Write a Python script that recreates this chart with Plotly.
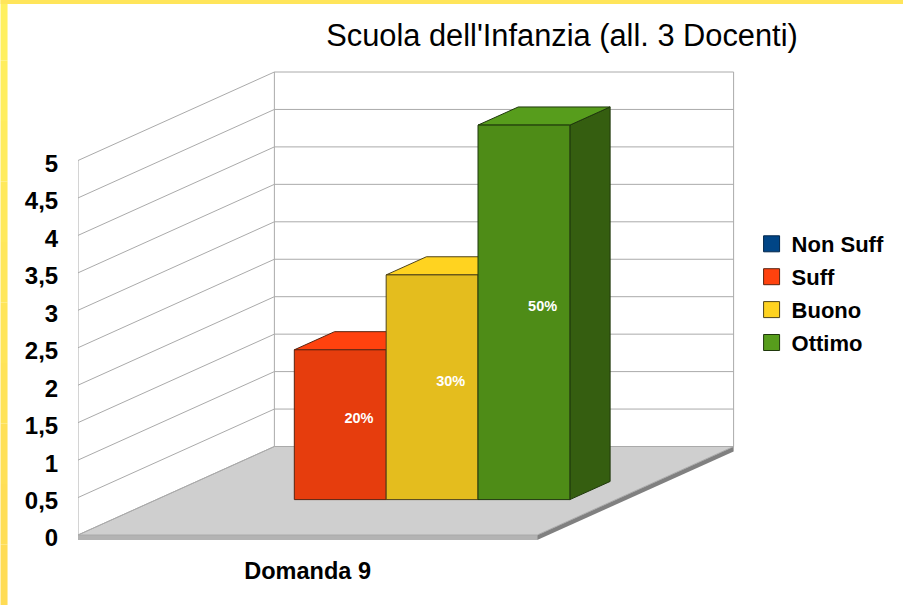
import plotly.graph_objects as go

TITLE = "Scuola dell'Infanzia (all. 3 Docenti)"
CATEGORY = "Domanda 9"
SERIES = ["Non Suff", "Suff", "Buono", "Ottimo"]
VALUES = [0, 2, 3, 5]
LABELS = ["", "20%", "30%", "50%"]
TICKS = [0, 0.5, 1, 1.5, 2, 2.5, 3, 3.5, 4, 4.5, 5]

FRONT = ["#004586", "#e63d0d", "#e4bd1e", "#4e8c17"]
TOP = ["#004586", "#ff420e", "#ffd320", "#579d1c"]
SIDE = ["#002f5c", "#a82c09", "#a88b16", "#355e10"]
EDGE = ["#00264a", "#5a2410", "#50441a", "#1f380c"]

PX_X, PX_Y = 91.9, 74.9            # pixels per unit on each axis
DEPTH_X, DEPTH_Y = 196.5, 88.5     # pixels of full depth
X_ORIGIN, Y_ORIGIN, PLOT_BOTTOM = 77.5, 535, 540
W, H = 903, 605
FLOOR_W = 5.0
BAR_D0, BAR_D1 = 0.40, 0.605
Y_MAX = TICKS[-1]
SLAB = 5 / PX_Y


def pt(x, y, d=0.0):
    return x + d * DEPTH_X / PX_X, y + d * DEPTH_Y / PX_Y


def poly(*pts):
    xs = [p[0] for p in pts] + [pts[0][0]]
    ys = [p[1] for p in pts] + [pts[0][1]]
    return xs, ys


shapes = []


def add_path(pts, fill=None, line=None, width=1):
    path = "M" + "L".join(f"{x:.4f},{y:.4f}" for x, y in pts) + ("Z" if fill else "")
    shapes.append(dict(type="path", path=path, xref="x", yref="y", layer="below",
                       fillcolor=fill or "rgba(0,0,0,0)",
                       line=dict(color=line or "rgba(0,0,0,0)", width=width)))


GRID = "#aaaaaa"
add_path([pt(0, 0), pt(FLOOR_W, 0), pt(FLOOR_W, -SLAB), pt(0, -SLAB)], fill="#b3b3b3")
add_path([pt(FLOOR_W, 0), pt(FLOOR_W, 0, 1), pt(FLOOR_W, -SLAB, 1), pt(FLOOR_W, -SLAB)], fill="#808080")
add_path([pt(0, 0), pt(FLOOR_W, 0), pt(FLOOR_W, 0, 1), pt(0, 0, 1)], fill="#cfcfcf", line=GRID)
for t in TICKS:
    add_path([pt(0, t), pt(0, t, 1), pt(FLOOR_W, t, 1)], line=GRID)
add_path([pt(0, 0), pt(0, Y_MAX)], line=GRID)
add_path([pt(0, 0, 1), pt(0, Y_MAX, 1)], line=GRID)
add_path([pt(FLOOR_W, 0, 1), pt(FLOOR_W, Y_MAX, 1)], line=GRID)

fig = go.Figure()

# bars, back-to-front in drawing order so each bar hides the one on its left
for i, (name, v) in enumerate(zip(SERIES, VALUES)):
    if v <= 0:
        continue
    x0, x1 = 0.50 + i, 1.50 + i
    faces = [
        (SIDE[i], (pt(x1, 0, BAR_D0), pt(x1, 0, BAR_D1), pt(x1, v, BAR_D1), pt(x1, v, BAR_D0))),
        (TOP[i], (pt(x0, v, BAR_D0), pt(x1, v, BAR_D0), pt(x1, v, BAR_D1), pt(x0, v, BAR_D1))),
        (FRONT[i], (pt(x0, 0, BAR_D0), pt(x1, 0, BAR_D0), pt(x1, v, BAR_D0), pt(x0, v, BAR_D0))),
    ]
    for color, pts in faces:
        xs, ys = poly(*pts)
        fig.add_trace(go.Scatter(x=xs, y=ys, mode="lines", fill="toself", fillcolor=color,
                                 line=dict(color=EDGE[i], width=1), showlegend=False,
                                 hoverinfo="skip"))

# data labels sit near the centre of each box
lx, ly, lt = [], [], []
for i, v in enumerate(VALUES):
    if v > 0:
        px, py = pt(1.0 + i, v / 2 - 3.5 / PX_Y, BAR_D0 + 0.095)
        lx.append(px)
        ly.append(py)
        lt.append(LABELS[i])
fig.add_trace(go.Scatter(x=lx, y=ly, text=lt, mode="text", textposition="middle center",
                         textfont=dict(family="Liberation Sans", size=14.5, color="white", weight="bold"),
                         showlegend=False, hoverinfo="skip"))

# legend entries
for i, name in enumerate(SERIES):
    fig.add_trace(go.Scatter(x=[None], y=[None], mode="markers", name=name, legendgroup=name,
                             marker=dict(symbol="square", size=16, color=TOP[i],
                                         line=dict(color=EDGE[i], width=1))))

# yellow frame
segs = 10
for k in range(segs):
    g = 240 - (240 - 220) * k / (segs - 1)
    b = 95 - 10 * k / (segs - 1)
    shapes.append(dict(type="rect", xref="paper", yref="paper", layer="below",
                       x0=-X_ORIGIN / (W - X_ORIGIN), x1=(7 - X_ORIGIN) / (W - X_ORIGIN),
                       y0=1 - (k + 1) * H / segs / PLOT_BOTTOM, y1=1 - k * H / segs / PLOT_BOTTOM,
                       fillcolor=f"rgb(255,{g:.0f},{b:.0f})", line=dict(width=0)))
shapes.append(dict(type="rect", xref="paper", yref="paper", layer="below",
                   x0=-X_ORIGIN / (W - X_ORIGIN), x1=1, y0=1 - 4 / PLOT_BOTTOM, y1=1,
                   fillcolor="#ffe55a", line=dict(width=0)))

fig.update_layout(
    width=W, height=H, autosize=False,
    margin=dict(l=X_ORIGIN, r=0, t=0, b=H - PLOT_BOTTOM, pad=0),
    paper_bgcolor="white", plot_bgcolor="rgba(0,0,0,0)",
    separators=", ",
    shapes=shapes,
    font=dict(family="Liberation Sans", color="black"),
    title=dict(text=TITLE, x=562 / W, xanchor="center", y=1 - 35 / H, yanchor="middle",
               font=dict(family="Liberation Sans", size=30.8, color="black")),
    xaxis=dict(range=[0, (W - X_ORIGIN) / PX_X], tickmode="array", tickvals=[FLOOR_W / 2],
               ticktext=[CATEGORY], showgrid=False, zeroline=False, showline=False,
               ticks="outside", ticklen=10, tickcolor="rgba(0,0,0,0)",
               tickfont=dict(family="Liberation Sans", size=23.5, color="black", weight="bold")),
    yaxis=dict(range=[-(PLOT_BOTTOM - Y_ORIGIN) / PX_Y, Y_ORIGIN / PX_Y], tickmode="array",
               tickvals=TICKS, showgrid=False, zeroline=False, showline=False,
               ticks="outside", ticklen=14, tickcolor="rgba(0,0,0,0)", ticklabelshift=3,
               tickfont=dict(family="Liberation Sans", size=24, color="black", weight="bold")),
    legend=dict(x=(751.5 - X_ORIGIN) / (W - X_ORIGIN), xanchor="left", y=1 - 223 / PLOT_BOTTOM, yanchor="top",
                font=dict(family="Liberation Sans", size=22, color="black", weight="bold"),
                tracegroupgap=1.3, bgcolor="rgba(0,0,0,0)", borderwidth=0,
                itemclick=False, itemdoubleclick=False),
)

fig.write_html("out.html", post_script="document.body.style.margin='0';",
               config={"displayModeBar": False})
